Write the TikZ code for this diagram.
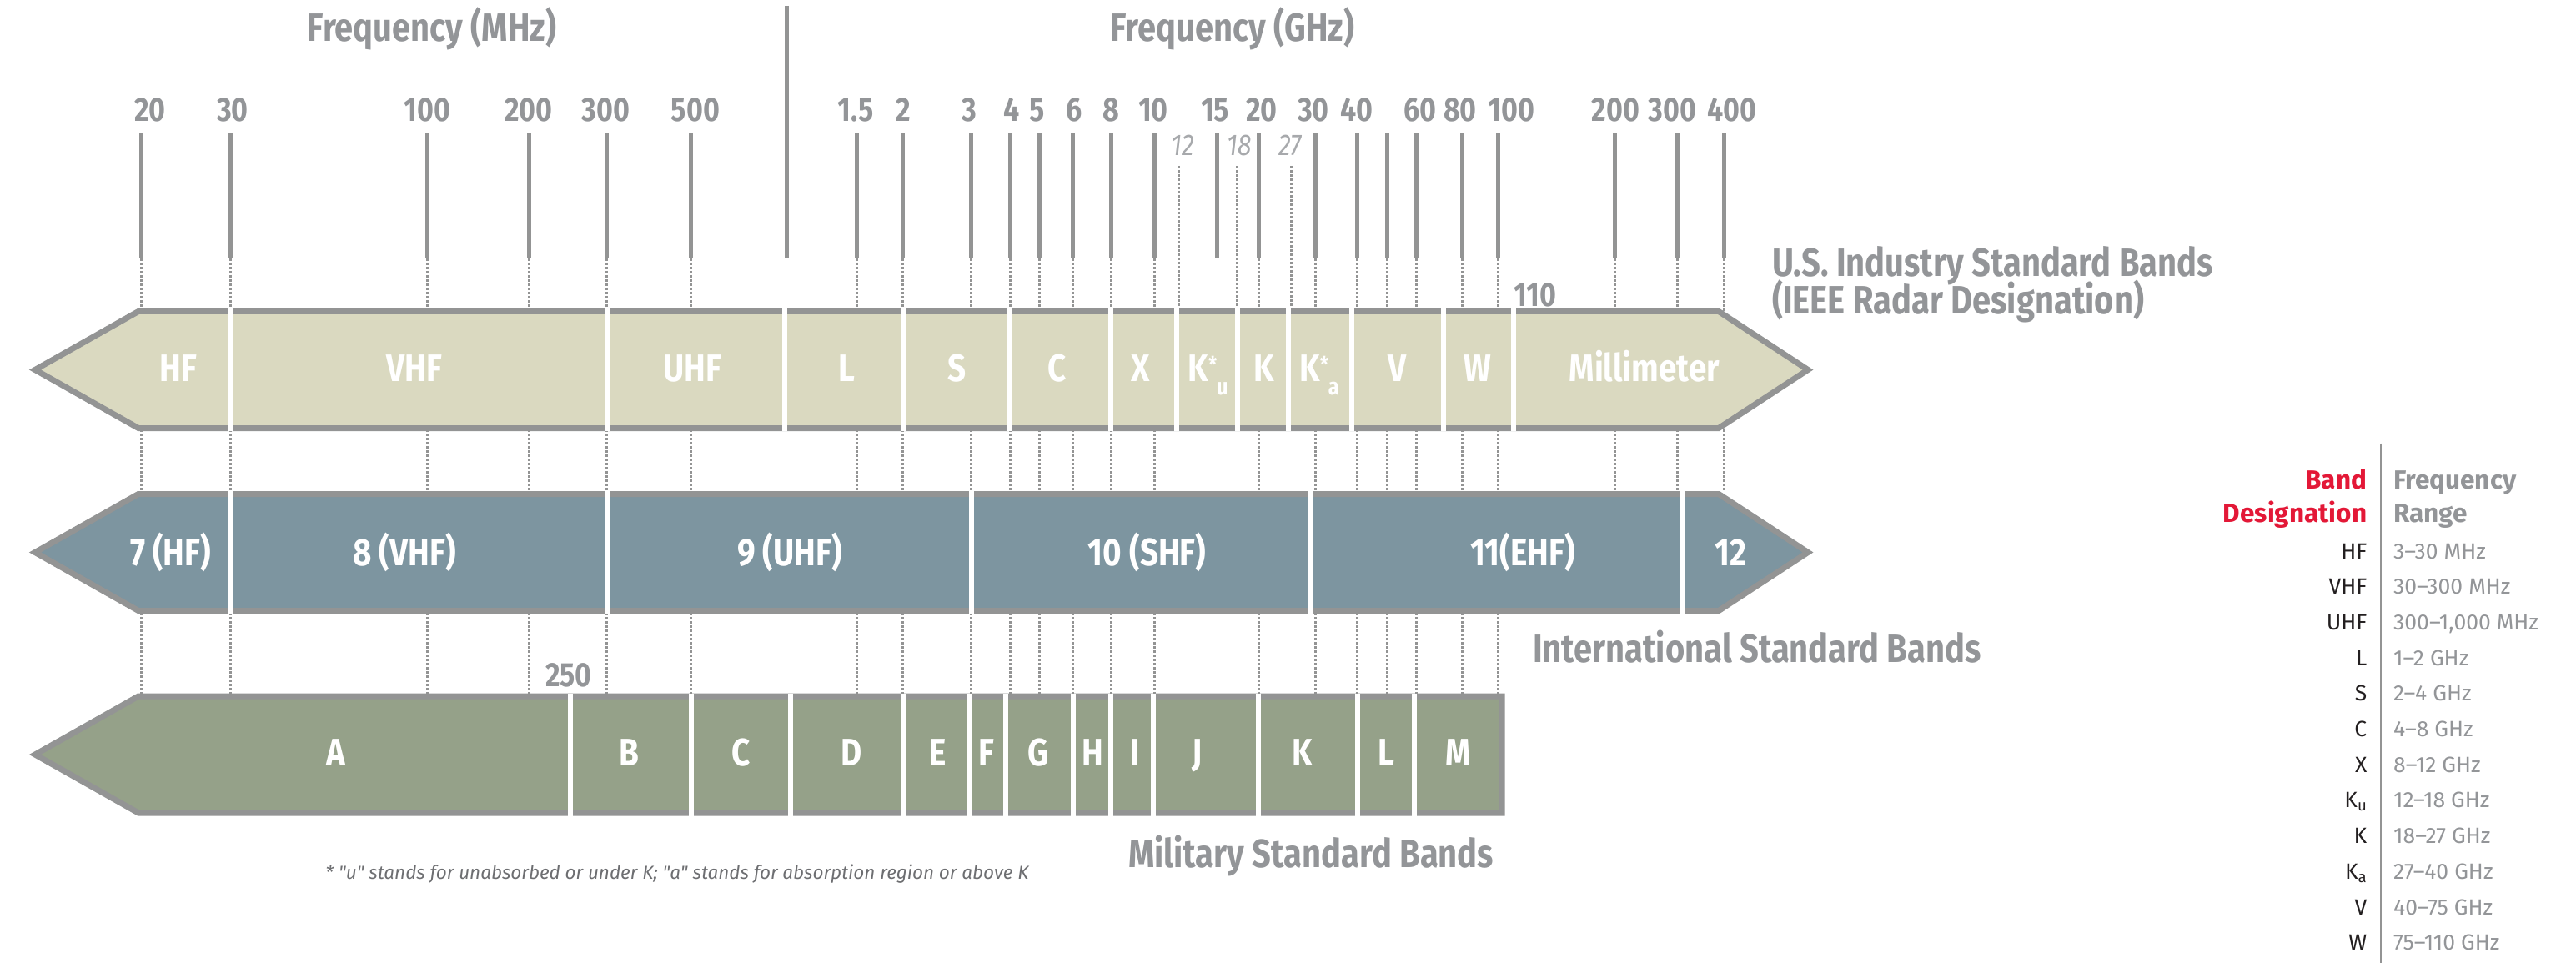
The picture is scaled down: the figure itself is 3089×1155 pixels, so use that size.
\documentclass[tikz,border=0pt]{standalone}
\usepackage{fontspec}
\setmainfont{Fira Sans}
\newfontfamily\cond[FakeStretch=0.84]{Fira Sans}
\newfontfamily\legf{Fira Sans}
\definecolor{linegray}{HTML}{939494}
\definecolor{txtgray}{HTML}{939598}
\definecolor{ltgray}{HTML}{A7A9AC}
\definecolor{beigeband}{HTML}{DAD9C0}
\definecolor{blueband}{HTML}{7D95A0}
\definecolor{greenband}{HTML}{95A189}
\definecolor{legred}{HTML}{E31837}
\definecolor{legblack}{HTML}{231F20}
\definecolor{notegray}{HTML}{6D6E71}
\begin{document}
\begin{tikzpicture}[x=1pt,y=-1pt,
  tickln/.style={draw=linegray, line width=5pt},
  dotln/.style={draw=linegray, line width=3pt, dash pattern=on 2.8pt off 2.2pt},
  bandshape/.style={draw=linegray, line width=7pt, line join=miter, miter limit=20},
  sepln/.style={draw=white, line width=6pt},
  numlbl/.style={text=txtgray, font=\cond\bfseries\fontsize{40.5}{42}\selectfont, anchor=base, inner sep=0pt},
  itlbl/.style={text=ltgray, font=\cond\itshape\fontsize{36}{38}\selectfont, anchor=base, inner sep=0pt},
  titlelbl/.style={text=txtgray, font=\cond\bfseries\fontsize{47.5}{52}\selectfont, inner sep=0pt},
  bandlbl/.style={text=white, font=\cond\bfseries\fontsize{46}{48}\selectfont, anchor=base, inner sep=0pt},
  leghead/.style={font=\legf\bfseries\fontsize{31.5}{40}\selectfont, anchor=base, inner sep=0pt},
  legrow/.style={font=\legf\fontsize{26.5}{30}\selectfont, anchor=base, inner sep=0pt}
]
\useasboundingbox (0,0) rectangle (3089,1155);

% ---------- tick lines ----------
\foreach \x in {169.6,276.8,512.8,634,727.7,828.4,1027,1082,1164,1211.4,1246.6,1286.4,1332.3,1384.3,1509,1577.3,1627.6,1663.6,1698,1753,1796}{
  \draw[dotln] (\x,310) -- (\x,832);
  \draw[tickln] (\x,160.5) -- (\x,310);
}
\foreach \x in {1936.7,2011.5,2067.6}{
  \draw[dotln] (\x,310) -- (\x,589);
  \draw[tickln] (\x,160.5) -- (\x,310);
}
\foreach \x in {1413,1483,1548}{
  \draw[dotln] (\x,199) -- (\x,370);
}
\draw[tickln] (1459.5,160.5) -- (1459.5,309);
% MHz / GHz divider
\draw[tickln] (943.6,7) -- (943.6,310);

% ---------- tick labels ----------
\foreach \x/\t [count=\i] in {180/20,278.8/30,512.4/100,634/200,726.5/300,834/500,
  1026/1.5,1083.6/2,1162/3,1212.6/4,1243.8/5,1288/6,1332/8,1383/10,1457/15,1513/20,
  1575/30,1627/40,1703/60,1751/80,1812.6/100,1937.5/200,2005.6/300,2077/400}{
  \node[numlbl] (num\i) at (\x,146) {\t};
}
\node[itlbl] (it12) at (1418,186.7) {12};
\node[itlbl] (it18) at (1486,186.7) {18};
\node[itlbl] (it27) at (1547,186.7) {27};

\node[titlelbl, anchor=base] (tmhz) at (518,50) {Frequency (MHz)};
\node[titlelbl, anchor=base] (tghz) at (1478,50) {Frequency (GHz)};
\node[titlelbl, anchor=base west] (us1) at (2125,331.7) {U.S. Industry Standard Bands};
\node[titlelbl, anchor=base west] (us2) at (2125,376.7) {(IEEE Radar Designation)};
\node[titlelbl, anchor=base west] (intl) at (1838,794) {International Standard Bands};
\node[titlelbl, anchor=base west] (mil) at (1353,1040) {Military Standard Bands};
\node[numlbl] (n110) at (1841,367) {110};
\node[numlbl] (n250) at (682,823) {250};

% ---------- band 1 (IEEE) ----------
\draw[bandshape, fill=beigeband] (166,373.5) -- (42,443.5) -- (166,513.5) -- (2061,513.5) -- (2168,443.5) -- (2061,373.5) -- cycle;
\foreach \x in {277,727.5,941,1083,1211,1331.5,1411,1483.5,1545,1621,1730.7,1815}{
  \draw[sepln] (\x,370) -- (\x,517);
}
\foreach \x/\t [count=\i] in {214/HF,497/VHF,830.5/UHF,1015/L,1148/S,1268/C,1368/X,1516/K,1675/V,1772/W,1971.7/Millimeter}{
  \node[bandlbl] (ieee\i) at (\x,457) {\t};
}
\node[bandlbl, anchor=base west] (ieeeku) at (1424.6,457) {K\raisebox{11pt}{\fontsize{26}{26}\selectfont *}\raisebox{-16pt}{\fontsize{28}{28}\selectfont u}};
\node[bandlbl, anchor=base west] (ieeeka) at (1558.5,457) {K\raisebox{11pt}{\fontsize{26}{26}\selectfont *}\raisebox{-16pt}{\fontsize{28}{28}\selectfont a}};

% ---------- band 2 (International) ----------
\draw[bandshape, fill=blueband] (166,592.5) -- (42,662.5) -- (166,732.5) -- (2061,732.5) -- (2168,662.5) -- (2061,592.5) -- cycle;
\foreach \x in {277,727.5,1164.5,1572.3,2017.6}{
  \draw[sepln] (\x,589) -- (\x,736);
}
\foreach \x/\t [count=\i] in {204.5/7 (HF),485/8 (VHF),947/9 (UHF),1375.5/10 (SHF),1826/11(EHF),2075/12}{
  \node[bandlbl] (itu\i) at (\x,678.5) {\t};
}

% ---------- band 3 (Military) ----------
\draw[bandshape, fill=greenband] (166,835) -- (42,905) -- (166,975) -- (1801,975) -- (1801,835) -- cycle;
\foreach \x in {683.7,829,948,1083,1163,1206,1286.5,1332,1383.4,1509,1628.3,1696}{
  \draw[sepln] (\x,831.5) -- (\x,978.5);
}
\foreach \x/\t [count=\i] in {402.5/A,754/B,889/C,1021/D,1125/E,1183/F,1245/G,1310/H,1361/I,1435.5/J,1562/K,1662/L,1749/M}{
  \node[bandlbl] (milb\i) at (\x,918) {\t};
}

% ---------- footnote ----------
\node[anchor=base, inner sep=0pt, text=notegray, font=\legf\itshape\fontsize{22.5}{26}\selectfont] (note) at (812,1054)
  {* "u" stands for unabsorbed or under K; "a" stands for absorption region or above K};

% ---------- legend ----------
\draw[draw=linegray, line width=2.7pt] (2855,531.7) -- (2855,1155);
\node[leghead, anchor=base east, text=legred] (lb1) at (2838.5,586.7) {Band};
\node[leghead, anchor=base east, text=legred] (lb2) at (2838.5,626.7) {Designation};
\node[leghead, anchor=base west, text=txtgray] (lf1) at (2870,586.7) {Frequency};
\node[leghead, anchor=base west, text=txtgray] (lf2) at (2870,626.7) {Range};
\foreach \d/\r [count=\i from 0] in {HF/{3–30 MHz},VHF/{30–300 MHz},UHF/{300–1,000 MHz},L/{1–2 GHz},S/{2–4 GHz},C/{4–8 GHz},X/{8–12 GHz},{K\textsubscript{u}}/{12–18 GHz},K/{18–27 GHz},{K\textsubscript{a}}/{27–40 GHz},V/{40–75 GHz},W/{75–110 GHz}}{
  \node[legrow, anchor=base east, text=legblack] (ld\i) at (2838.5,670+42.7*\i) {\d};
  \node[legrow, anchor=base west, text=txtgray] (lr\i) at (2870,670+42.7*\i) {\r};
}
\end{tikzpicture}
\end{document}
